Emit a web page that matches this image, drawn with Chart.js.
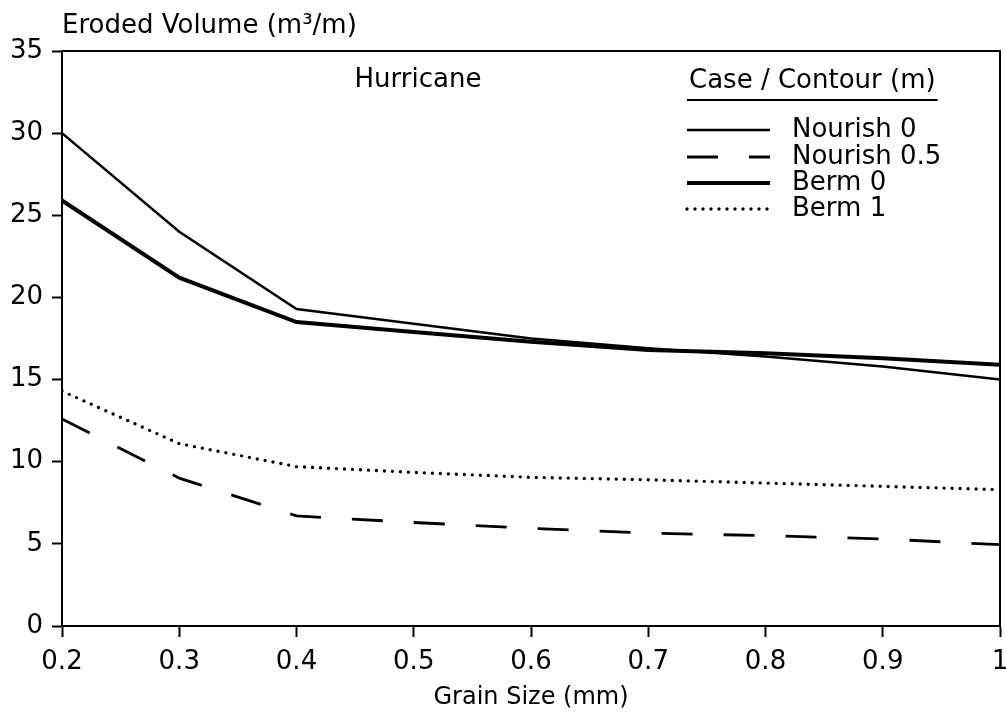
<!DOCTYPE html>
<html>
<head>
<meta charset="utf-8">
<title>Eroded Volume vs Grain Size</title>
<script src="https://cdn.jsdelivr.net/npm/chart.js@4.4.1/dist/chart.umd.min.js"></script>
<style>
  html, body { margin: 0; padding: 0; background: #fff; }
  #wrap { width: 1006px; height: 720px; position: relative; }
</style>
</head>
<body>
<div id="wrap"><canvas id="chart" width="1006" height="720"></canvas></div>
<script>
// grain size (mm) on the x axis
const grainSize = [0.2, 0.3, 0.4, 0.5, 0.6, 0.7, 0.8, 0.9, 1.0];

// eroded volume (m3/m)
const nourish0 = [30.0, 24.0, 19.3, 18.4, 17.5, 16.9, 16.4, 15.8, 15.0];
const nourish05 = [12.6, 9.0, 6.7, 6.3, 5.95, 5.65, 5.5, 5.3, 4.95];
const berm0 = [25.9, 21.2, 18.5, 17.9, 17.3, 16.8, 16.6, 16.3, 15.9];
const berm1 = [14.3, 11.1, 9.7, 9.35, 9.05, 8.9, 8.7, 8.5, 8.3];

const seriesNames = ["Nourish 0", "Nourish 0.5", "Berm 0", "Berm 1"];
const yTitle = "Eroded Volume (m\u00B3/m)";
const xTitle = "Grain Size (mm)";
const panelLabel = "Hurricane";
const legendTitle = "Case / Contour (m)";

const FONT = "'DejaVu Sans', sans-serif";

function toPoints(values) {
  return values.map((v, i) => ({ x: grainSize[i], y: v }));
}

// frame on top/right, headers and the hand-placed legend
const extrasPlugin = {
  id: "extras",
  afterDraw(chart) {
    const { ctx, chartArea } = chart;
    ctx.save();
    ctx.strokeStyle = "#000";
    ctx.lineWidth = 2;
    ctx.beginPath();
    ctx.moveTo(chartArea.left, chartArea.top);
    ctx.lineTo(chartArea.right, chartArea.top);
    ctx.lineTo(chartArea.right, chartArea.bottom);
    ctx.stroke();

    ctx.fillStyle = "#000";
    ctx.font = "26px " + FONT;
    ctx.textBaseline = "middle";

    ctx.textAlign = "left";
    ctx.fillText(yTitle, 62, 26);

    ctx.textAlign = "center";
    ctx.fillText(panelLabel, 418, 80);

    ctx.textAlign = "left";
    ctx.fillText(legendTitle, 689, 81);
    const w = ctx.measureText(legendTitle).width;
    ctx.beginPath();
    ctx.moveTo(687, 100);
    ctx.lineTo(691 + w, 100);
    ctx.stroke();

    const rows = [130, 157, 183, 209];
    chart.data.datasets.forEach((ds, i) => {
      const y = rows[i];
      ctx.save();
      ctx.lineWidth = ds.borderWidth;
      ctx.setLineDash(ds.borderDash || []);
      ctx.lineCap = ds.borderCapStyle || "butt";
      ctx.beginPath();
      ctx.moveTo(687, y);
      ctx.lineTo(770, y);
      ctx.stroke();
      ctx.restore();
      ctx.fillText(ds.label, 792, y);
    });
    ctx.restore();
  }
};

const ctx = document.getElementById("chart");
new Chart(ctx, {
  type: "line",
  data: {
    datasets: [
      {
        label: seriesNames[0],
        data: toPoints(nourish0),
        borderColor: "#000",
        borderWidth: 2.5,
      },
      {
        label: seriesNames[1],
        data: toPoints(nourish05),
        borderColor: "#000",
        borderWidth: 2.8,
        borderDash: [31, 31],
      },
      {
        label: seriesNames[2],
        data: toPoints(berm0),
        borderColor: "#000",
        borderWidth: 4,
      },
      {
        label: seriesNames[3],
        data: toPoints(berm1),
        borderColor: "#000",
        borderWidth: 3.4,
        borderDash: [0, 8],
        borderCapStyle: "round",
      },
    ],
  },
  options: {
    responsive: false,
    animation: false,
    events: [],
    layout: { padding: { top: 51, right: 6, left: 0, bottom: 0 } },
    elements: {
      point: { radius: 0 },
      line: { tension: 0, fill: false },
    },
    plugins: {
      legend: { display: false },
      tooltip: { enabled: false },
    },
    scales: {
      x: {
        type: "linear",
        min: 0.2,
        max: 1.0,
        border: { display: true, color: "#000", width: 2 },
        grid: {
          drawOnChartArea: false,
          drawTicks: true,
          tickLength: 11,
          tickWidth: 2,
          tickColor: "#000",
        },
        ticks: {
          stepSize: 0.1,
          color: "#000",
          font: { family: FONT, size: 26 },
          padding: 10,
          maxRotation: 0,
          autoSkip: false,
          callback: (v) => (Math.abs(v - 1) < 1e-9 ? "1" : Number(v).toFixed(1)),
        },
        title: {
          display: true,
          text: xTitle,
          color: "#000",
          font: { family: FONT, size: 24 },
          padding: { top: 0, bottom: 8 },
        },
        afterFit(scale) {
          scale.height = 94;
          scale.paddingLeft = 0;
          scale.paddingRight = 0;
        },
      },
      y: {
        min: 0,
        max: 35,
        border: { display: true, color: "#000", width: 2 },
        grid: {
          drawOnChartArea: false,
          drawTicks: true,
          tickLength: 10,
          tickWidth: 2,
          tickColor: "#000",
        },
        ticks: {
          stepSize: 5,
          color: "#000",
          font: { family: FONT, size: 26 },
          padding: 9,
        },
        afterFit(scale) {
          scale.width = 62;
          scale.paddingTop = 0;
          scale.paddingBottom = 0;
        },
      },
    },
  },
  plugins: [extrasPlugin],
});
</script>
</body>
</html>
